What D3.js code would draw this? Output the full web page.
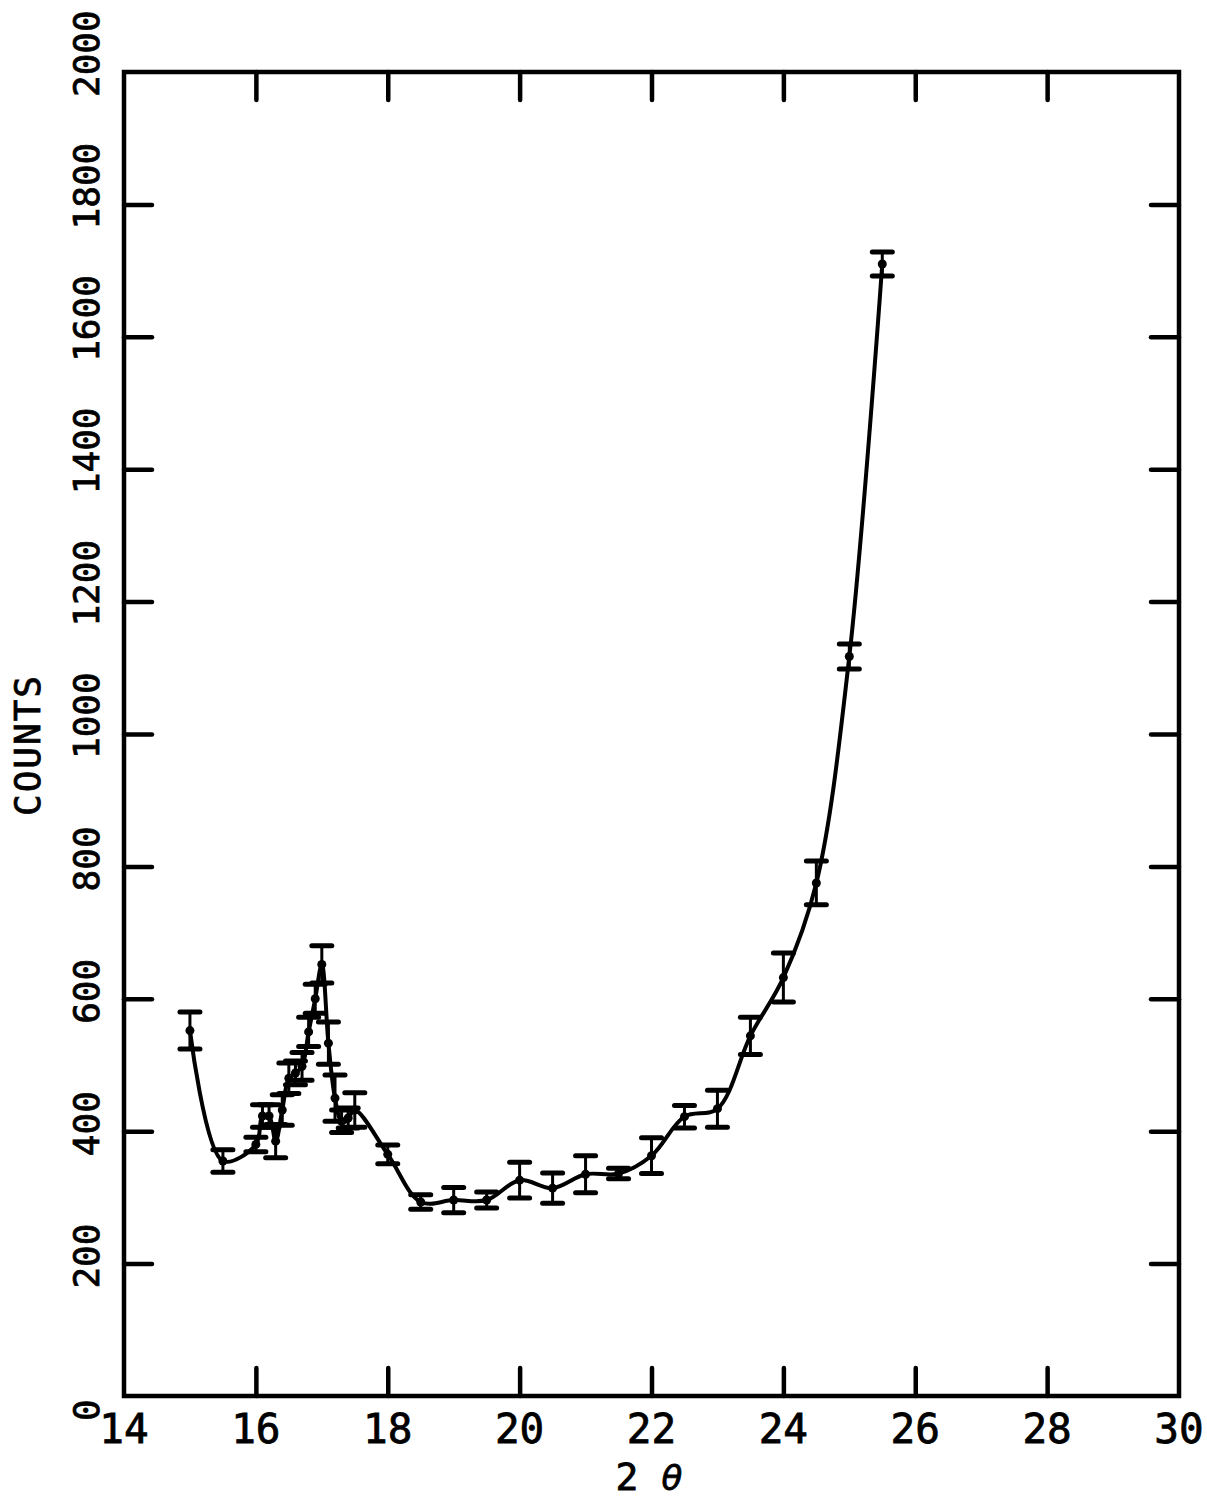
<!DOCTYPE html>
<html>
<head>
<meta charset="utf-8">
<script src="https://cdn.jsdelivr.net/npm/d3@7"></script>
<style>
body { margin: 0; background: #fff; }
</style>
</head>
<body>
<script>
const width = 1207;
const height = 1502;

// points: 2-theta, counts, half error bar
const twoTheta = [15.0, 15.5, 16.0, 16.1, 16.2, 16.3, 16.4, 16.5, 16.6, 16.7, 16.8, 16.9,
    17.0, 17.1, 17.2, 17.3, 17.4, 17.5, 18.0, 18.5, 19.0, 19.5, 20.0, 20.5, 21.0, 21.5,
    22.0, 22.5, 23.0, 23.5, 24.0, 24.5, 25.0, 25.5];
const counts = [552, 355, 380, 423, 423, 385, 432, 480, 488, 498, 550, 600,
    652, 533, 450, 415, 420, 432, 365, 293, 296, 296, 326, 314, 335, 336,
    363, 422, 434, 544, 632, 775, 1117, 1710];
const errors = [28, 17, 11, 17, 17, 25, 23, 23, 18, 21, 22, 22,
    28, 32, 35, 17, 15, 26, 14, 11, 19, 12, 27, 23, 28, 8,
    27, 17, 28, 28, 37, 33, 19, 18];

const xTicks = [16, 18, 20, 22, 24, 26, 28];
const xLabels = [14, 16, 18, 20, 22, 24, 26, 28, 30];
const yTicks = [200, 400, 600, 800, 1000, 1200, 1400, 1600, 1800];
const yLabels = [0, 200, 400, 600, 800, 1000, 1200, 1400, 1600, 1800, 2000];

const x = d3.scaleLinear().domain([14, 30]).range([124, 1179]);
const y = d3.scaleLinear().domain([0, 2000]).range([1396, 72]);

const svg = d3.select("body").append("svg")
    .attr("width", width)
    .attr("height", height)
    .style("background-color", "white");

const font = "'DejaVu Sans Mono', monospace";

// inward ticks on all four sides
function styleAxis(g) {
    g.select(".domain").remove();
    g.selectAll(".tick line").attr("stroke", "#000").attr("stroke-width", 4.5).attr("stroke-linecap", "round");
}
svg.append("g").attr("transform", `translate(0,${y(0)})`)
    .call(d3.axisBottom(x).tickValues(xTicks).tickSize(-28).tickFormat(""))
    .call(styleAxis);
svg.append("g").attr("transform", `translate(0,${y(2000)})`)
    .call(d3.axisTop(x).tickValues(xTicks).tickSize(-28).tickFormat(""))
    .call(styleAxis);
svg.append("g").attr("transform", `translate(${x(14)},0)`)
    .call(d3.axisLeft(y).tickValues(yTicks).tickSize(-28).tickFormat(""))
    .call(styleAxis);
svg.append("g").attr("transform", `translate(${x(30)},0)`)
    .call(d3.axisRight(y).tickValues(yTicks).tickSize(-28).tickFormat(""))
    .call(styleAxis);

// frame
svg.append("rect")
    .attr("x", x(14))
    .attr("y", y(2000))
    .attr("width", x(30) - x(14))
    .attr("height", y(0) - y(2000))
    .attr("fill", "none")
    .attr("stroke", "#000")
    .attr("stroke-width", 4.5);

// tick labels (slightly heavy, like the plotter pen)
svg.selectAll(".xlab")
    .data(xLabels)
    .enter().append("text")
    .attr("class", "xlab")
    .attr("x", d => x(d))
    .attr("y", 1443)
    .attr("text-anchor", "middle")
    .attr("stroke", "#000")
    .attr("stroke-width", 0.8)
    .style("font-family", font)
    .style("font-size", "41px")
    .text(d => d);

svg.selectAll(".ylab")
    .data(yLabels)
    .enter().append("text")
    .attr("class", "ylab")
    .attr("transform", d => `translate(99,${y(d) + 25}) rotate(-90)`)
    .attr("text-anchor", "start")
    .attr("stroke", "#000")
    .attr("stroke-width", 0.8)
    .style("font-family", font)
    .style("font-size", "36px")
    .text(d => d);

// axis titles
svg.append("text")
    .attr("transform", "translate(40,745) rotate(-90)")
    .attr("text-anchor", "middle")
    .attr("stroke", "#000")
    .attr("stroke-width", 0.8)
    .style("font-family", font)
    .style("font-size", "36px")
    .style("letter-spacing", "2px")
    .text("COUNTS");

svg.append("text")
    .attr("x", 627)
    .attr("y", 1490)
    .attr("text-anchor", "middle")
    .attr("stroke", "#000")
    .attr("stroke-width", 0.8)
    .style("font-family", font)
    .style("font-size", "38px")
    .text("2");
svg.append("text")
    .attr("x", 672)
    .attr("y", 1490)
    .attr("text-anchor", "middle")
    .attr("stroke", "#000")
    .attr("stroke-width", 0.8)
    .style("font-family", "'DejaVu Sans', sans-serif")
    .style("font-style", "italic")
    .style("font-size", "34px")
    .text("θ");

const points = twoTheta.map((t, i) => ({ t: t, c: counts[i], e: errors[i] }));

// smooth curve through the points
const line = d3.line()
    .x(d => x(d.t))
    .y(d => y(d.c))
    .curve(d3.curveCatmullRom.alpha(0.5));

svg.append("path")
    .datum(points)
    .attr("d", line)
    .attr("fill", "none")
    .attr("stroke", "#000")
    .attr("stroke-width", 4)
    .attr("stroke-linejoin", "round");

// error bars
const bars = svg.selectAll(".bar")
    .data(points)
    .enter().append("g")
    .attr("class", "bar")
    .attr("stroke", "#000")
    .attr("stroke-linecap", "round");

bars.append("line")
    .attr("x1", d => x(d.t)).attr("x2", d => x(d.t))
    .attr("y1", d => y(d.c + d.e)).attr("y2", d => y(d.c - d.e))
    .attr("stroke-width", 3);
bars.append("line")
    .attr("x1", d => x(d.t) - 10).attr("x2", d => x(d.t) + 10)
    .attr("y1", d => y(d.c + d.e)).attr("y2", d => y(d.c + d.e))
    .attr("stroke-width", 5);
bars.append("line")
    .attr("x1", d => x(d.t) - 10).attr("x2", d => x(d.t) + 10)
    .attr("y1", d => y(d.c - d.e)).attr("y2", d => y(d.c - d.e))
    .attr("stroke-width", 5);

svg.selectAll(".dot")
    .data(points)
    .enter().append("circle")
    .attr("class", "dot")
    .attr("cx", d => x(d.t))
    .attr("cy", d => y(d.c))
    .attr("r", 4.5)
    .attr("fill", "#000");
</script>
</body>
</html>
